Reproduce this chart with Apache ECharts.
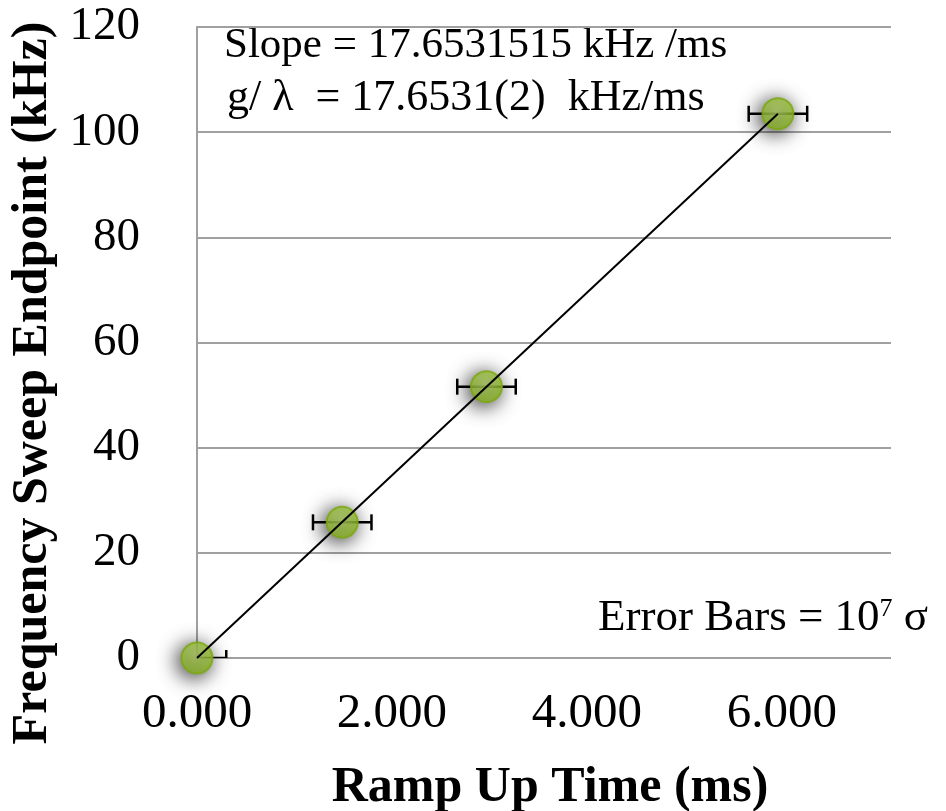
<!DOCTYPE html>
<html>
<head>
<meta charset="utf-8">
<script src="https://cdn.jsdelivr.net/npm/echarts@6/dist/echarts.min.js"></script>
<style>
  html, body { margin: 0; padding: 0; background: #fff; }
  #chart { width: 946px; height: 811px; }
</style>
</head>
<body>
<div id="chart"></div>
<script>
// ramp time (ms) vs frequency sweep endpoint (kHz)
const rampTime = [0, 1.49, 2.97, 5.96];
const sweepEnd = [0, 25.8, 51.6, 103.5];
const timeErr = [0.30, 0.30, 0.30, 0.30];   // horizontal error bars (x 10^7 sigma)
// linear fit line end points
const fitX = [0, 5.96];
const fitY = [0, 103.5];
const yTicks = [0, 20, 40, 60, 80, 100, 120];

const FONT = '"Liberation Serif", "DejaVu Serif", serif';

const chart = echarts.init(document.getElementById('chart'), null, { renderer: 'canvas' });

const points = rampTime.map((x, i) => [x, sweepEnd[i]]);
const errData = rampTime.map((x, i) => [x - timeErr[i], x + timeErr[i], sweepEnd[i]]);
const fitData = fitX.map((x, i) => [x, fitY[i]]);

chart.setOption({
  backgroundColor: '#fff',
  animation: false,
  grid: { left: 197, right: 55, top: 27, bottom: 153 },
  xAxis: {
    type: 'value', min: 0, max: 7.12, interval: 2,
    axisLine: { show: false }, axisTick: { show: false }, splitLine: { show: false },
    axisLabel: {
      margin: 32, fontFamily: FONT, fontSize: 49, color: '#000',
      formatter: v => (v > 6.5 ? '' : v.toFixed(3))
    }
  },
  yAxis: {
    type: 'value', min: yTicks[0], max: yTicks[yTicks.length - 1], interval: 20,
    axisLine: { show: true, lineStyle: { color: '#a0a0a0', width: 2 } },
    axisTick: { show: false },
    splitLine: { lineStyle: { color: '#a0a0a0', width: 2 } },
    axisLabel: { margin: 57, fontFamily: FONT, fontSize: 47, color: '#000' }
  },
  series: [
    {
      // horizontal error bars with end caps
      type: 'custom', clip: true, z: 2,
      renderItem: (params, api) => {
        const a = api.coord([api.value(0), api.value(2)]);
        const b = api.coord([api.value(1), api.value(2)]);
        const h = 8;
        const st = { stroke: '#000', lineWidth: 2.5 };
        return {
          type: 'group',
          children: [
            { type: 'line', shape: { x1: a[0], y1: a[1], x2: b[0], y2: b[1] }, style: st },
            { type: 'line', shape: { x1: a[0], y1: a[1] - h, x2: a[0], y2: a[1] + h }, style: st },
            { type: 'line', shape: { x1: b[0], y1: b[1] - h, x2: b[0], y2: b[1] + h }, style: st }
          ]
        };
      },
      encode: { x: [0, 1], y: 2 },
      data: errData
    },
    {
      type: 'scatter', z: 3,
      symbol: 'circle', symbolSize: 31,
      itemStyle: {
        color: {
          type: 'radial', x: 0.45, y: 0.4, r: 0.7,
          colorStops: [{ offset: 0, color: '#bddc6c' }, { offset: 0.6, color: '#9dc836' }, { offset: 1, color: '#84b012' }]
        },
        borderColor: '#7aa810', borderWidth: 2,
        shadowBlur: 20, shadowColor: 'rgba(0,0,0,1)', shadowOffsetX: -3, shadowOffsetY: 3
      },
      data: points
    },
    {
      type: 'line', z: 4, symbol: 'none',
      lineStyle: { color: '#000', width: 2 },
      data: fitData
    }
  ],
  graphic: [
    {
      type: 'text', left: 224, top: 24,
      style: { text: 'Slope = 17.6531515 kHz /ms', font: '43px ' + FONT, fill: '#000' }
    },
    {
      type: 'text', left: 227, top: 76,
      style: { text: 'g/ \u03bb  = 17.6531(2)  kHz/ms', font: '44px ' + FONT, fill: '#000' }
    },
    {
      type: 'text', left: 598, top: 596,
      style: {
        text: 'Error Bars = 10{sup|7} \u03c3',
        font: '45px ' + FONT, fill: '#000',
        rich: { sup: { fontSize: 26, fontFamily: FONT, verticalAlign: 'top', padding: [0, 0, 18, 0] } }
      }
    },
    {
      type: 'text', x: 550, y: 788,
      style: {
        text: 'Ramp Up Time (ms)', font: 'bold 50px ' + FONT, fill: '#000',
        align: 'center', verticalAlign: 'middle'
      }
    },
    {
      type: 'text', x: 33, y: 383, rotation: Math.PI / 2,
      style: {
        text: 'Frequency Sweep Endpoint (kHz)', font: 'bold 50px ' + FONT, fill: '#000',
        align: 'center', verticalAlign: 'middle'
      }
    }
  ]
});
</script>
</body>
</html>
